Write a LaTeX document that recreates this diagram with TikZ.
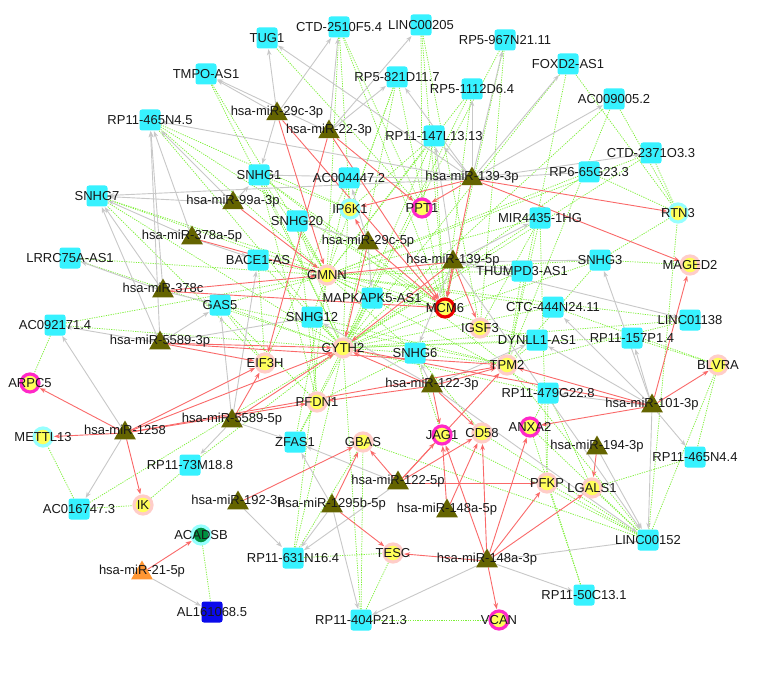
\documentclass[tikz,border=0pt]{standalone}
\usepackage{fontspec}
\setmainfont{Liberation Sans}
\usetikzlibrary{shapes.geometric,arrows.meta}
\pgfdeclarelayer{back}\pgfdeclarelayer{bg}\pgfdeclarelayer{fg}
\pgfsetlayers{back,bg,main,fg}
\definecolor{lncc}{RGB}{55,242,255}
\definecolor{olivec}{RGB}{100,100,0}
\definecolor{orangec}{RGB}{255,150,50}
\definecolor{yel}{RGB}{255,255,90}
\definecolor{pinkr}{RGB}{255,205,200}
\definecolor{magr}{RGB}{255,40,200}
\definecolor{cyanr}{RGB}{150,255,255}
\definecolor{redr}{RGB}{235,0,0}
\definecolor{grayc}{RGB}{200,200,200}
\definecolor{redc}{RGB}{250,105,105}
\definecolor{greenc}{RGB}{125,240,55}
\definecolor{darkg}{RGB}{0,145,65}
\definecolor{blueb}{RGB}{10,10,235}
\tikzset{
 lncbox/.style={rectangle, rounded corners=2.5pt, fill=lncc, minimum size=21pt, inner sep=0pt},
 mirtri/.style={regular polygon, regular polygon sides=3, fill=olivec, minimum size=25pt, inner sep=0pt},
 mrna/.style={circle, fill=yel, draw=pinkr, line width=3.2pt, minimum size=18pt, inner sep=0pt},
 lbl/.style={font=\fontsize{13}{15}\selectfont, text=black!90, inner sep=0pt, text height=9.4pt, text depth=0pt},
 gedge/.style={draw=grayc, line width=0.9pt, -{Stealth[length=6pt,width=4.5pt]}, shorten >=0.5pt},
 redge/.style={draw=redc, line width=0.9pt, -{Stealth[length=6pt,width=4.5pt]}, shorten >=0.5pt},
 dedge/.style={draw=greenc, line width=0.75pt, dash pattern=on 1.2pt off 1.2pt},
}
\newcommand\Lnc[5][]{\node[lncbox,#1] (#2) at (#3,#4) {};
 \begin{pgfonlayer}{fg}\node[lbl] (#2t) at (#3,#4) {#5};\end{pgfonlayer}}
\newcommand\Mir[5][]{\node[mirtri,#1] (#2) at (#3,#4+3) {};
 \begin{pgfonlayer}{fg}\node[lbl] (#2t) at (#3,#4) {#5};\end{pgfonlayer}}
\newcommand\Mrn[5][]{\node[mrna,#1] (#2) at (#3,#4) {};
 \begin{pgfonlayer}{fg}\node[lbl] (#2t) at (#3,#4) {#5};\end{pgfonlayer}}
\begin{document}
\begin{tikzpicture}[x=1pt,y=-1pt]
\begin{pgfonlayer}{back}
\fill[white] (0,0) rectangle (776,679);
\end{pgfonlayer}
\useasboundingbox (0,0) rectangle (776,679);
% lncRNAs
\Lnc{tug1}{267}{38}{TUG1}
\Lnc{ctd2510}{339}{27}{CTD-2510F5.4}
\Lnc{linc205}{421}{25}{LINC00205}
\Lnc{rp5967}{505}{40}{RP5-967N21.11}
\Lnc{rp5821}{397}{77}{RP5-821D11.7}
\Lnc{rp51112}{472}{89}{RP5-1112D6.4}
\Lnc{rp11147}{434}{136}{RP11-147L13.13}
\Lnc{ac004447}{349}{178}{AC004447.2}
\Lnc{tmpo}{206}{74}{TMPO-AS1}
\Lnc{rp11465n45}{150}{120}{RP11-465N4.5}
\Lnc{snhg1}{259}{175}{SNHG1}
\Lnc{snhg7}{97}{196}{SNHG7}
\Lnc{snhg20}{297}{221}{SNHG20}
\Lnc{foxd2}{568}{64}{FOXD2-AS1}
\Lnc{ac009005}{614}{99}{AC009005.2}
\Lnc{ctd2371}{651}{153}{CTD-2371O3.3}
\Lnc{rp665}{589}{172}{RP6-65G23.3}
\Lnc{mir4435}{540}{218}{MIR4435-1HG}
\Lnc{thumpd3}{522}{271}{THUMPD3-AS1}
\Lnc{snhg3}{600}{260}{SNHG3}
\Lnc{ctc444}{553}{307}{CTC-444N24.11}
\Lnc{linc1138}{690}{320}{LINC01138}
\Lnc{dynll1}{537}{340}{DYNLL1-AS1}
\Lnc{rp11157}{632}{338}{RP11-157P1.4}
\Lnc{rp11479}{548}{393}{RP11-479G22.8}
\Lnc{rp11465n44}{695}{457}{RP11-465N4.4}
\Lnc{linc152}{648}{540}{LINC00152}
\Lnc{rp1150}{584}{595}{RP11-50C13.1}
\Lnc{lrrc75}{70}{258}{LRRC75A-AS1}
\Lnc{bace1}{258}{260}{BACE1-AS}
\Lnc{gas5}{220}{305}{GAS5}
\Lnc{ac092171}{55}{325}{AC092171.4}
\Lnc{mapkapk5}{372}{298}{MAPKAPK5-AS1}
\Lnc{snhg12}{312}{317}{SNHG12}
\Lnc{snhg6}{415}{353}{SNHG6}
\Lnc{zfas1}{295}{442}{ZFAS1}
\Lnc{rp1173}{190}{465}{RP11-73M18.8}
\Lnc{ac016747}{79}{509}{AC016747.3}
\Lnc{rp11631}{293}{558}{RP11-631N16.4}
\Lnc{rp11404}{361}{620}{RP11-404P21.3}
\Lnc[fill=blueb]{al161068}{212}{612}{AL161068.5}
% miRNAs
\Mir{m29c3}{277}{111}{hsa-miR-29c-3p}
\Mir{m223}{329}{129}{hsa-miR-22-3p}
\Mir{m1393}{472}{176}{hsa-miR-139-3p}
\Mir{m99a}{233}{200}{hsa-miR-99a-3p}
\Mir{m378a}{192}{235}{hsa-miR-378a-5p}
\Mir{m29c5}{368}{240}{hsa-miR-29c-5p}
\Mir{m1395}{453}{259}{hsa-miR-139-5p}
\Mir{m378c}{163}{288}{hsa-miR-378c}
\Mir{m55893}{160}{340}{hsa-miR-5589-3p}
\Mir{m1223}{432}{383}{hsa-miR-122-3p}
\Mir{m1013}{652}{403}{hsa-miR-101-3p}
\Mir{m1258}{125}{430}{hsa-miR-1258}
\Mir{m55895}{232}{418}{hsa-miR-5589-5p}
\Mir{m1943}{597}{445}{hsa-miR-194-3p}
\Mir{m1923}{238}{500}{hsa-miR-192-3p}
\Mir{m1225}{398}{480}{hsa-miR-122-5p}
\Mir{m1295}{332}{503}{hsa-miR-1295b-5p}
\Mir{m148a5}{447}{508}{hsa-miR-148a-5p}
\Mir{m148a3}{487}{558}{hsa-miR-148a-3p}
\Mir[fill=orangec]{m215}{142}{570}{hsa-miR-21-5p}
% mRNAs
\Mrn[draw=cyanr]{ip6k1}{350}{209}{IP6K1}
\Mrn[draw=magr]{ppt1}{422}{208}{PPT1}
\Mrn[draw=cyanr]{rtn3}{678}{213}{RTN3}
\Mrn{gmnn}{327}{275}{GMNN}
\Mrn{maged2}{690}{265}{MAGED2}
\Mrn[draw=redr]{mcm6}{445}{308}{MCM6}
\Mrn{igsf3}{480}{328}{IGSF3}
\Mrn{cyth2}{343}{348}{CYTH2}
\Mrn{eif3h}{265}{363}{EIF3H}
\Mrn{tpm2}{507}{365}{TPM2}
\Mrn{blvra}{718}{365}{BLVRA}
\Mrn{pfdn1}{317}{402}{PFDN1}
\Mrn[draw=magr]{arpc5}{30}{383}{ARPC5}
\Mrn[draw=cyanr]{mettl13}{43}{437}{METTL13}
\Mrn{gbas}{363}{442}{GBAS}
\Mrn[draw=magr]{jag1}{442}{435}{JAG1}
\Mrn{cd58}{482}{433}{CD58}
\Mrn[draw=magr]{anxa2}{530}{427}{ANXA2}
\Mrn{pfkp}{547}{483}{PFKP}
\Mrn{lgals1}{592}{488}{LGALS1}
\Mrn{ik}{143}{505}{IK}
\Mrn[fill=darkg,draw=cyanr]{acadsb}{201}{535}{ACADSB}
\Mrn{tesc}{393}{553}{TESC}
\Mrn[draw=magr]{vcan}{499}{620}{VCAN}
% edges
\begin{pgfonlayer}{bg}
\foreach \a/\b in {rp11465n45/gmnn, rp11465n45/cyth2, rp11465n45/mcm6, rp11465n45/ip6k1,
 tmpo/gmnn, tmpo/cyth2, snhg7/gmnn, snhg7/cyth2, snhg7/eif3h, snhg7/mcm6,
 snhg1/gmnn, snhg1/cyth2, snhg1/ip6k1, snhg1/mcm6, snhg1/pfdn1, snhg1/tpm2,
 snhg20/gmnn, snhg20/cyth2, snhg20/pfdn1, ac004447/gmnn, ac004447/cyth2, ac004447/eif3h,
 tug1/ppt1, ctd2510/ppt1, ctd2510/mcm6, ctd2510/ip6k1, ctd2510/gmnn,
 linc205/ppt1, linc205/mcm6, linc205/igsf3, rp5967/mcm6, rp5967/igsf3, rp5967/cyth2,
 rp5821/gmnn, rp5821/cyth2, rp5821/mcm6, rp5821/ip6k1, rp51112/cyth2, rp51112/gmnn, rp51112/mcm6,
 rp11147/cyth2, rp11147/gmnn, rp11147/ppt1, rp11147/ip6k1, rp11147/mcm6,
 foxd2/rtn3, foxd2/tpm2, foxd2/cyth2, ac009005/rtn3, ac009005/cyth2, ac009005/tpm2,
 ctd2371/rtn3, ctd2371/cyth2, ctd2371/gmnn, rp665/cyth2, rp665/gmnn, rp665/rtn3,
 mir4435/gmnn, mir4435/cyth2, mir4435/tpm2, mir4435/igsf3, mir4435/pfkp,
 thumpd3/gmnn, thumpd3/cyth2, thumpd3/tpm2,
 snhg3/cyth2, snhg3/maged2, snhg3/gmnn, snhg3/tpm2, snhg3/rtn3,
 ctc444/cyth2, ctc444/gmnn, ctc444/blvra, linc1138/cyth2, linc1138/gmnn, linc1138/tpm2,
 dynll1/cyth2, dynll1/gmnn, dynll1/tpm2, rp11157/cyth2, rp11157/blvra,
 rp11479/cyth2, rp11479/gmnn, rp11479/anxa2, rp11479/lgals1, rp11479/pfkp,
 rp11465n44/blvra, rp11465n44/lgals1,
 linc152/lgals1, linc152/pfkp, linc152/anxa2, linc152/cd58, linc152/tpm2, linc152/blvra, linc152/jag1, linc152/gbas, linc152/rtn3,
 rp1150/pfkp, rp1150/anxa2, lrrc75/gmnn, lrrc75/cyth2, bace1/gmnn, bace1/cyth2, bace1/eif3h,
 gas5/gmnn, gas5/cyth2, gas5/eif3h, gas5/pfdn1, gas5/tpm2, ac092171/arpc5, ac092171/gmnn, ac092171/cyth2,
 mapkapk5/gmnn, mapkapk5/cyth2, mapkapk5/mcm6, mapkapk5/pfdn1,
 snhg12/gmnn, snhg12/cyth2, snhg12/pfdn1, snhg12/tpm2,
 snhg6/cyth2, snhg6/gmnn, snhg6/pfdn1, snhg6/tpm2, snhg6/cd58, snhg6/jag1,
 zfas1/gmnn, zfas1/cyth2, zfas1/pfdn1, rp1173/cyth2, rp1173/ik,
 ac016747/mettl13, ac016747/ik, ac016747/cyth2,
 rp11631/gmnn, rp11631/cyth2, rp11631/tesc, rp11631/gbas,
 rp11404/vcan, rp11404/tesc, rp11404/cyth2, rp11404/gbas, al161068/acadsb}
 \draw[dedge] (\a) -- (\b);
\foreach \a/\b in {m29c3/tug1, m29c3/tmpo, m29c3/snhg1, m29c3/ctd2510,
 m223/ctd2510, m223/linc205, m223/rp5821, m223/tmpo,
 m1393/rp5821, m1393/rp5967, m1393/foxd2, m1393/ac009005, m1393/rp665, m1393/ctd2371, m1393/snhg1,
 m1393/rp11465n45, m1393/snhg7, m1393/tug1, m1393/rp51112, m1393/rp11147,
 m99a/rp11465n45, m99a/snhg7, m99a/snhg1, m378a/rp11465n45, m378a/snhg7, m378a/bace1,
 m378c/rp11465n45, m378c/snhg7, m378c/lrrc75, m378c/gas5,
 m55893/ac092171, m55893/gas5, m55893/snhg7, m55893/rp11465n45, m55893/snhg12,
 m1258/ac016747, m1258/ac092171, m55895/rp1173, m55895/gas5, m55895/zfas1, m55895/bace1,
 m1923/rp11631, m1295/rp11404, m1295/rp11631, m1295/zfas1, m1225/rp11631, m1225/zfas1,
 m148a3/rp11404, m148a3/linc152, m148a3/rp1150,
 m1013/rp11465n44, m1013/linc152, m1013/rp11157, m1013/snhg3, m1013/ctc444, m1013/rp11479, m1013/dynll1,
 m1943/linc152, m1223/snhg6, m1223/dynll1, m1223/snhg12, m1223/linc152,
 m1395/snhg6, m1395/thumpd3, m1395/mir4435, m1395/snhg3, m1395/rp11147, m1395/linc1138, m1395/linc152,
 m29c5/mapkapk5, m29c5/snhg20, m29c5/ac004447, m215/al161068}
 \draw[gedge] (\a) -- (\b);
\foreach \a/\b in {m1258/arpc5, m1258/mettl13, m1258/ik, m1258/eif3h, m1258/cyth2, m1258/pfdn1, m1258/tpm2,
 m1013/maged2, m1013/blvra, m1013/tpm2, m1013/anxa2, m1013/cyth2,
 m148a3/vcan, m148a3/tesc, m148a3/jag1, m148a3/cd58, m148a3/pfkp, m148a3/lgals1, m148a3/anxa2,
 m148a5/jag1, m148a5/cd58, m1225/gbas, m1225/cd58, m1225/tpm2, m1225/jag1, m1225/pfkp,
 m1295/tesc, m1295/gbas, m1943/lgals1, m1923/gbas,
 m1223/jag1, m1223/cd58, m1223/pfdn1, m1223/tpm2, m1223/cyth2,
 m1395/mcm6, m1395/igsf3, m1395/gmnn, m1395/cyth2,
 m1393/rtn3, m1393/ppt1, m1393/mcm6, m1393/maged2, m1393/ip6k1,
 m223/ppt1, m223/eif3h, m223/mcm6, m29c3/gmnn, m29c3/mcm6,
 m29c5/mcm6, m29c5/ip6k1, m29c5/cyth2, m378a/gmnn, m378c/gmnn, m378c/mcm6,
 m55893/eif3h, m55893/tpm2, m55893/cyth2, m55895/cyth2, m55895/eif3h, m99a/gmnn, m215/acadsb}
 \draw[redge] (\a) -- (\b);
\end{pgfonlayer}
\end{tikzpicture}
\end{document}
